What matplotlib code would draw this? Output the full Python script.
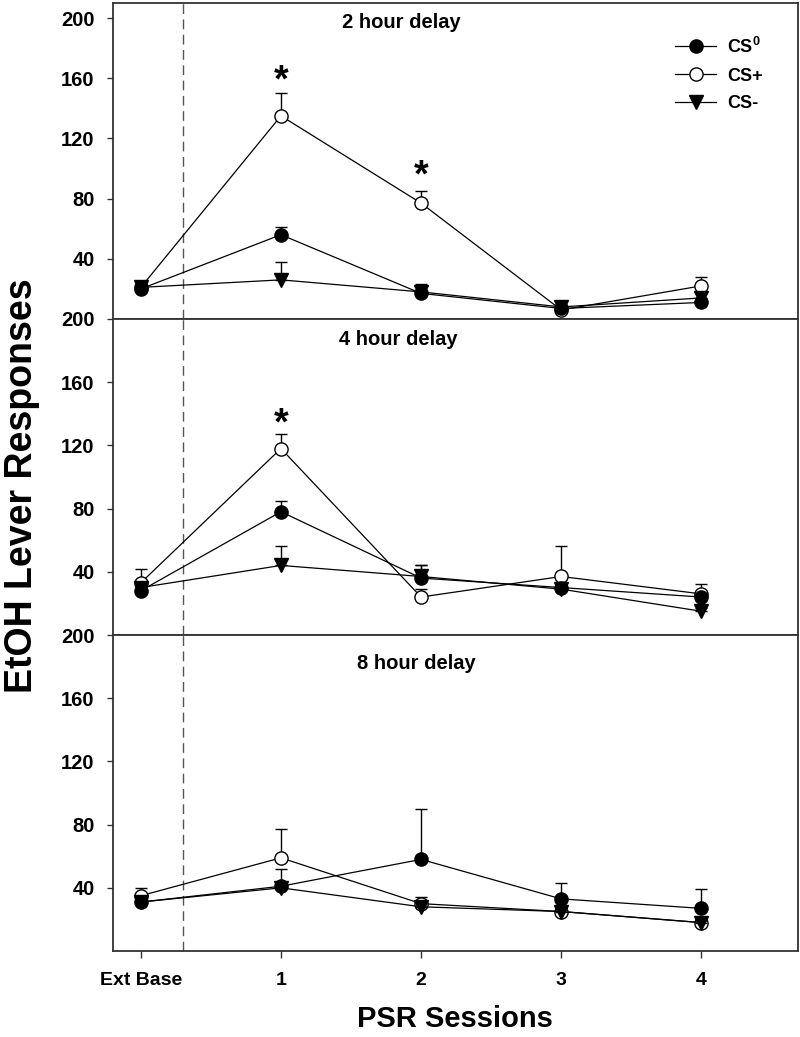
import matplotlib
matplotlib.use('Agg')
import matplotlib.pyplot as plt
from matplotlib.lines import Line2D

plt.rcParams['font.family'] = ['Liberation Sans', 'DejaVu Sans']
plt.rcParams['font.weight'] = 'bold'
plt.rcParams['mathtext.fontset'] = 'custom'
plt.rcParams['mathtext.bf'] = 'Liberation Sans:bold'
plt.rcParams['mathtext.rm'] = 'Liberation Sans:bold'

# data (means and upper SEM)
sessions = [0, 1, 2, 3, 4]
session_labels = ['Ext Base', '1', '2', '3', '4']
delays = ['2 hour delay', '4 hour delay', '8 hour delay']

cs0_2h = [20, 56, 17, 7, 11]
cs0_2h_err = [3, 5, 6, 1, 2]
csplus_2h = [21, 135, 77, 6, 22]
csplus_2h_err = [3, 15, 8, 1, 6]
csminus_2h = [21, 26, 18, 8, 14]
csminus_2h_err = [2, 12, 4, 1, 3]

cs0_4h = [28, 78, 36, 30, 24]
cs0_4h_err = [2, 7, 8, 2, 2]
csplus_4h = [33, 118, 24, 37, 26]
csplus_4h_err = [9, 9, 5, 19, 6]
csminus_4h = [30, 44, 37, 29, 15]
csminus_4h_err = [3, 12, 7, 2, 2]

cs0_8h = [31, 41, 58, 33, 27]
cs0_8h_err = [2, 11, 32, 10, 12]
csplus_8h = [35, 59, 30, 25, 18]
csplus_8h_err = [5, 18, 4, 2, 2]
csminus_8h = [31, 40, 28, 25, 18]
csminus_8h_err = [2, 2, 3, 2, 2]

# significance stars: (panel, session, y)
stars = [(0, 1, 158), (0, 2, 95), (1, 1, 133)]

panels = [
    (cs0_2h, cs0_2h_err, csplus_2h, csplus_2h_err, csminus_2h, csminus_2h_err),
    (cs0_4h, cs0_4h_err, csplus_4h, csplus_4h_err, csminus_4h, csminus_4h_err),
    (cs0_8h, cs0_8h_err, csplus_8h, csplus_8h_err, csminus_8h, csminus_8h_err),
]
title_pos = [(1.86, 197), (1.84, 187), (1.97, 182)]
ytops = [210, 200, 200]

fig = plt.figure(figsize=(8, 10.37), dpi=100)
left, right = 0.141, 0.9975
bottoms = [0.6924, 0.3877, 0.0829]
height = 0.3047

spine_col = '#333333'
axes = []
for i, (c0, c0e, cp, cpe, cm, cme) in enumerate(panels):
    ax = fig.add_axes([left, bottoms[i], right - left, height])
    axes.append(ax)
    ax.axvline(0.3, color='#555555', lw=1, ls=(0, (7, 4)), zorder=1)

    zeros = [0] * len(sessions)
    ax.errorbar(sessions, cp, yerr=[zeros, cpe], fmt='-o', color='black', mfc='white',
                mec='black', ms=9.5, mew=1, lw=0.9, capsize=4.3, capthick=1, elinewidth=1, zorder=3)
    ax.errorbar(sessions, cm, yerr=[zeros, cme], fmt='-v', color='black', mfc='black',
                mec='black', ms=9.5, mew=1, lw=0.9, capsize=4.3, capthick=1, elinewidth=1, zorder=4)
    ax.errorbar(sessions, c0, yerr=[zeros, c0e], fmt='-o', color='black', mfc='black',
                mec='black', ms=9.5, mew=1, lw=0.9, capsize=4.3, capthick=1, elinewidth=1, zorder=5)

    ax.set_xlim(-0.2, 4.69)
    ax.set_ylim(0, ytops[i])
    ax.set_yticks([40, 80, 120, 160, 200])
    ax.tick_params(axis='y', direction='out', length=4, width=1, color=spine_col,
                   labelsize=14.5, pad=9)
    for s in ax.spines.values():
        s.set_color(spine_col)
        s.set_linewidth(1.3)

    tx, ty = title_pos[i]
    ax.text(tx, ty, delays[i], ha='center', va='center', fontsize=14.5, fontweight='bold')

    if i < 2:
        ax.set_xticks([])
    else:
        ax.set_xticks(sessions)
        ax.set_xticklabels(session_labels)
        ax.tick_params(axis='x', direction='out', length=5, width=1, color=spine_col,
                       labelsize=14, pad=10)

for p, s, y in stars:
    axes[p].text(s, y, '*', ha='center', va='center', fontsize=27, fontweight='bold')

handles = [
    Line2D([], [], color='black', marker='o', mfc='black', mec='black', ms=9.5, lw=0.9),
    Line2D([], [], color='black', marker='o', mfc='white', mec='black', ms=9.5, lw=0.9),
    Line2D([], [], color='black', marker='v', mfc='black', mec='black', ms=9.5, lw=0.9),
]
axes[0].legend(handles, [r'CS$^\mathbf{0}$', 'CS+', 'CS-'], loc='upper left',
               bbox_to_anchor=(0.807, 0.922), frameon=False, borderpad=0,
               handlelength=2.3, handletextpad=0.6, labelspacing=0.6,
               prop={'weight': 'bold', 'size': 13})

fig.text(0.028, 0.532, 'EtOH Lever Responses', rotation=90, ha='center', va='center',
         fontsize=27, fontweight='bold')
fig.text(0.569, 0.0174, 'PSR Sessions', ha='center', va='center', fontsize=21,
         fontweight='bold')

fig.savefig('out.png', dpi=100)
